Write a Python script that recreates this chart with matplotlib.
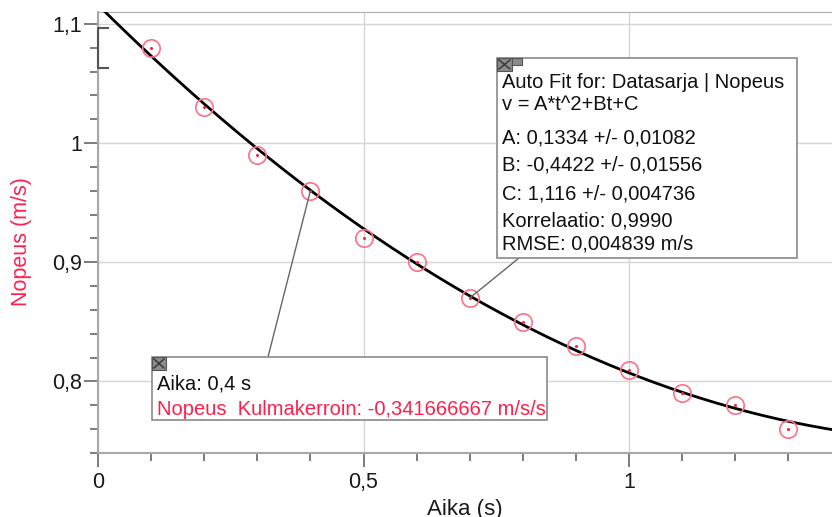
import numpy as np
import matplotlib.pyplot as plt
from matplotlib.patches import Rectangle, ConnectionPatch
from matplotlib.lines import Line2D

plt.rcParams['font.family'] = ['Liberation Sans', 'DejaVu Sans']

# mittaukset
aika = [0.1, 0.2, 0.3, 0.4, 0.5, 0.6, 0.7, 0.8, 0.9, 1.0, 1.1, 1.2, 1.3]
nopeus = [1.08, 1.03, 0.99, 0.96, 0.92, 0.90, 0.87, 0.85, 0.83, 0.81, 0.79, 0.78, 0.76]

# sovituksen parametrit (v = A*t^2+Bt+C)
A, B, C = 0.1334, -0.4422, 1.116

x_ticks = [0, 0.5, 1]
x_tick_labels = ['0', '0,5', '1']
y_ticks = [0.8, 0.9, 1.0, 1.1]
y_tick_labels = ['0,8', '0,9', '1', '1,1']

fit_text = ['Auto Fit for: Datasarja | Nopeus', 'v = A*t^2+Bt+C',
            'A: 0,1334 +/- 0,01082', 'B: -0,4422 +/- 0,01556',
            'C: 1,116 +/- 0,004736', 'Korrelaatio: 0,9990',
            'RMSE: 0,004839 m/s']
tangent_text = ['Aika: 0,4 s', 'Nopeus  Kulmakerroin: -0,341666667 m/s/s']
tangent_point = (0.4, 0.96)
fit_point = (0.7, 0.87)

W, H = 832, 517
def fx(x):
    return x / W
def fy(y):
    return 1 - y / H

fig = plt.figure(figsize=(W / 100, H / 100), dpi=100)
ax = fig.add_axes([fx(98), fy(453), 1 - fx(98), (453 - 12) / H])
ax.set_xlim(0, (832 - 98) / 531)
ax.set_ylim(0.74, 1.11)

# sovitettu käyrä
t = np.linspace(0, 1.45, 300)
ax.plot(t, A * t**2 + B * t + C, color='black', lw=2, zorder=3)
# datapisteet
ax.plot(aika, nopeus, 'o', ms=12.5, mfc='none', mec='#ff6f88', mew=1.2, zorder=4)
ax.plot(aika, nopeus, 'o', ms=2.2, color='#ff1f3f', mew=0, zorder=5)

# akselit
ax.set_xticks(x_ticks, x_tick_labels)
ax.set_yticks(y_ticks, y_tick_labels)
ax.set_xticks(np.arange(0, 1.4, 0.1), minor=True)
ax.set_yticks(np.arange(0.74, 1.11, 0.02), minor=True)
ax.tick_params(which='major', length=10, width=1.2, color='#666', labelsize=15.5,
               labelcolor='#1a1a1a')
ax.tick_params(axis='y', which='major', pad=1.5)
ax.tick_params(axis='x', which='major', pad=3.5)
ax.tick_params(which='minor', length=5.5, width=1.2, color='#666')
ax.grid(True, which='major', color='#d6d6d6', lw=1)
for s in ['left', 'bottom']:
    ax.spines[s].set_color('#a8a8a8')
    ax.spines[s].set_linewidth(1.5)
ax.spines['top'].set_color('#b0b0b0')
ax.spines['right'].set_visible(False)

ax.set_xlabel('Aika (s)', fontsize=16, color='#1a1a1a')
ax.set_ylabel('Nopeus (m/s)', fontsize=15.5, color='#ff2050')
ax.xaxis.set_label_coords(0.5, -0.104)
ax.yaxis.set_label_coords(-0.09, 0.4785)

# valintahakanen y-akselilla
ax.plot([0.019, 0, 0, 0.019], [1.0966, 1.0966, 1.063, 1.063], color='#555',
        lw=1.5, clip_on=False, zorder=6)

def info_box(x0, y0, x1, y1, icon_w, dash):
    fig.add_artist(Rectangle((fx(x0), fy(y1)), fx(x1 - x0), (y1 - y0) / H,
                             transform=fig.transFigure, fc='white', ec='#8a8a8a',
                             lw=1.2, zorder=10))
    fig.add_artist(Rectangle((fx(x0), fy(y0 + 13)), fx(icon_w), 13 / H,
                             transform=fig.transFigure, fc='#8c8c8c', ec='#555',
                             lw=0.8, zorder=11))
    fig.add_artist(Line2D([fx(x0 + 2), fx(x0 + icon_w - 2)], [fy(y0 + 2), fy(y0 + 11)],
                          color='#333', lw=1, zorder=12))
    fig.add_artist(Line2D([fx(x0 + 2), fx(x0 + icon_w - 2)], [fy(y0 + 11), fy(y0 + 2)],
                          color='#333', lw=1, zorder=12))
    if dash:
        fig.add_artist(Rectangle((fx(x0 + icon_w), fy(y0 + 7)), fx(10), 7 / H,
                                 transform=fig.transFigure, fc='#8c8c8c', ec='#555',
                                 lw=0.8, zorder=11))

# sovituslaatikko
info_box(497, 58, 797, 258, 15, True)
fit_baselines = [88, 110, 143, 171, 199, 227, 249]
for txt, yb in zip(fit_text, fit_baselines):
    fig.text(fx(502), fy(yb), txt, fontsize=14.5, color='#111', va='baseline',
             zorder=13)
fig.add_artist(ConnectionPatch((519, H - 258), fit_point, coordsA='figure pixels',
                               coordsB=ax.transData, color='#666', lw=1, zorder=9))

# tangenttilaatikko
info_box(152, 357, 547, 420, 14, False)
fig.text(fx(157), fy(390), tangent_text[0], fontsize=14.5, color='#111',
         va='baseline', zorder=13)
fig.text(fx(157), fy(415), tangent_text[1], fontsize=14.5, color='#ff1f4a',
         va='baseline', zorder=13)
fig.add_artist(ConnectionPatch((268, H - 357), tangent_point, coordsA='figure pixels',
                               coordsB=ax.transData, color='#666', lw=1, zorder=9))

fig.savefig('out.png', dpi=100)
